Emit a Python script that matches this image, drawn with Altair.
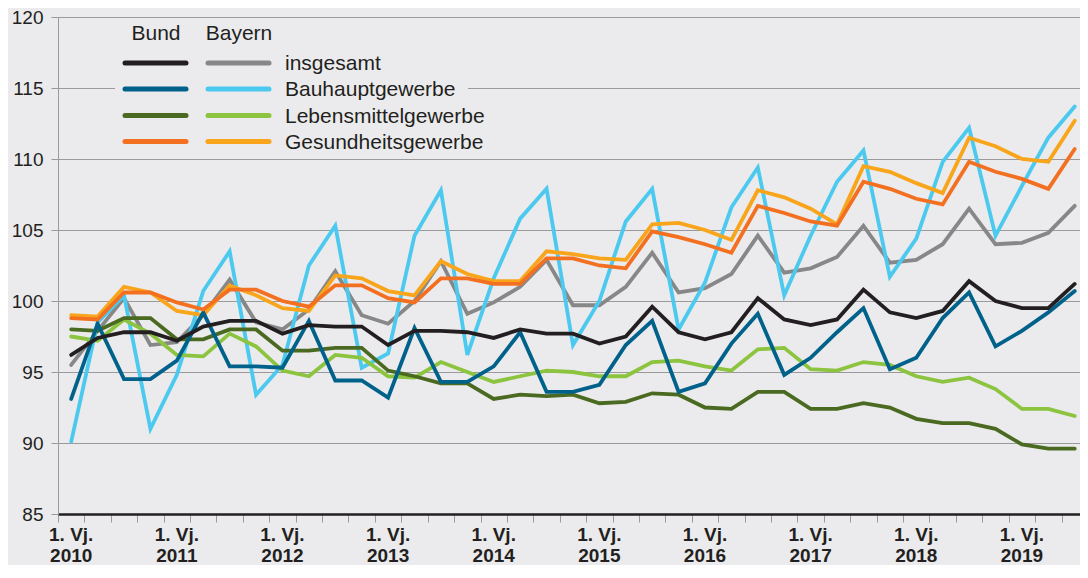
import altair as alt
import pandas as pd

# ---------------- data ----------------
years = ["2010", "2011", "2012", "2013", "2014", "2015", "2016", "2017", "2018", "2019"]
quarter_names = ["1. Vj.", "2. Vj.", "3. Vj.", "4. Vj."]
n_quarters = 39  # 1. Vj. 2010 ... 3. Vj. 2019

bund_insgesamt = [96.2, 97.4, 97.8, 97.8, 97.2, 98.2, 98.6, 98.6, 97.7, 98.3,
                  98.2, 98.2, 96.9, 97.9, 97.9, 97.8, 97.4, 98.0, 97.7, 97.7,
                  97.0, 97.5, 99.6, 97.8, 97.3, 97.8, 100.2, 98.7, 98.3, 98.7,
                  100.8, 99.2, 98.8, 99.3, 101.4, 100.0, 99.5, 99.5, 101.2]
bayern_insgesamt = [95.5, 97.9, 100.2, 96.9, 97.1, 99.0, 101.5, 98.5, 98.0, 99.4,
                    102.1, 99.0, 98.4, 100.0, 102.8, 99.1, 99.9, 101.0, 102.9, 99.7,
                    99.7, 101.0, 103.4, 100.6, 100.9, 101.9, 104.6, 102.0, 102.3, 103.1,
                    105.3, 102.7, 102.9, 104.0, 106.5, 104.0, 104.1, 104.8, 106.7]
bund_bau = [93.1, 98.4, 94.5, 94.5, 95.8, 99.2, 95.4, 95.4, 95.3, 98.6,
            94.4, 94.4, 93.2, 98.1, 94.3, 94.3, 95.4, 97.8, 93.6, 93.6,
            94.1, 96.9, 98.6, 93.6, 94.2, 97.0, 99.1, 94.8, 96.0, 97.8,
            99.5, 95.2, 96.0, 98.8, 100.6, 96.8, 97.9, 99.2, 100.7]
bayern_bau = [90.1, 98.5, 100.4, 91.0, 94.8, 100.7, 103.5, 93.4, 95.5, 102.5,
              105.3, 95.3, 96.3, 104.6, 107.8, 96.2, 101.6, 105.8, 107.9, 96.9,
              100.0, 105.6, 107.9, 98.0, 101.3, 106.6, 109.4, 100.4, 104.6, 108.4,
              110.6, 101.7, 104.4, 109.8, 112.2, 104.6, 108.1, 111.5, 113.7]
bund_leben = [98.0, 97.9, 98.8, 98.8, 97.3, 97.3, 98.0, 98.0, 96.5, 96.5,
              96.7, 96.7, 95.1, 94.7, 94.2, 94.2, 93.1, 93.4, 93.3, 93.4,
              92.8, 92.9, 93.5, 93.4, 92.5, 92.4, 93.6, 93.6, 92.4, 92.4,
              92.8, 92.5, 91.7, 91.4, 91.4, 91.0, 89.9, 89.6, 89.6]
bayern_leben = [97.5, 97.2, 98.7, 97.7, 96.2, 96.1, 97.7, 96.8, 95.1, 94.7,
                96.2, 96.0, 94.7, 94.6, 95.7, 95.0, 94.3, 94.7, 95.1, 95.0,
                94.7, 94.7, 95.7, 95.8, 95.4, 95.1, 96.6, 96.7, 95.2, 95.1,
                95.7, 95.5, 94.7, 94.3, 94.6, 93.8, 92.4, 92.4, 91.9]
bund_gesund = [98.8, 98.7, 100.6, 100.6, 99.9, 99.4, 100.8, 100.8, 100.0, 99.6,
               101.1, 101.1, 100.2, 99.9, 101.6, 101.6, 101.2, 101.2, 103.0, 103.0,
               102.5, 102.3, 104.9, 104.5, 104.0, 103.4, 106.7, 106.2, 105.6, 105.3,
               108.4, 107.9, 107.2, 106.8, 109.8, 109.1, 108.6, 107.9, 110.7]
bayern_gesund = [99.0, 98.9, 101.0, 100.6, 99.3, 99.0, 101.1, 100.4, 99.5, 99.3,
                 101.8, 101.6, 100.7, 100.4, 102.8, 101.9, 101.4, 101.4, 103.5, 103.3,
                 103.0, 102.9, 105.4, 105.5, 105.0, 104.3, 107.8, 107.3, 106.5, 105.4,
                 109.5, 109.1, 108.3, 107.6, 111.5, 110.9, 110.0, 109.8, 112.7]

branch_labels = ["insgesamt", "Bauhauptgewerbe", "Lebensmittelgewerbe", "Gesundheitsgewerbe"]
bund_colors = ["#231f20", "#00628a", "#4b6a21", "#f37021"]
bayern_colors = ["#878787", "#4cc9ee", "#8cc43f", "#f9a51b"]
y_ticks = [85, 90, 95, 100, 105, 110, 115, 120]

# ---------------- styling ----------------
BG = "#ebebed"
FONT = "Liberation Sans"
TXT = "#231f20"
GRID = "#9a9a9a"
PLOT_H = 497

quarter_labels = [f"{quarter_names[i % 4]} {years[i // 4]}" for i in range(n_quarters)]

xscale = alt.Scale(domain=[-0.5, 38.2], nice=False, zero=False)
xaxis = alt.Axis(values=[i - 0.5 for i in range(n_quarters)], labels=False, ticks=True,
                 tickColor=GRID, tickSize=8, tickWidth=1, domainColor=TXT,
                 domainWidth=2.5, grid=False, title=None)
yscale = alt.Scale(domain=[85, 120], nice=False, zero=False)
yaxis = alt.Axis(values=y_ticks, grid=True, gridColor=GRID, gridWidth=1,
                 domainColor=GRID, domainWidth=1, tickColor=GRID, tickSize=7,
                 labelFontSize=19, labelFont=FONT, labelColor=TXT, labelPadding=8,
                 title=None)

xenc = alt.X("idx:Q", scale=xscale, axis=xaxis)
yenc = alt.Y("value:Q", scale=yscale, axis=yaxis)


def line_layer(values, color, name):
    df = pd.DataFrame({"idx": list(range(len(values))), "value": values,
                       "quarter": quarter_labels[:len(values)], "series": name})
    return alt.Chart(df).mark_line(color=color, strokeWidth=3.8, strokeJoin="miter",
                                   strokeCap="round").encode(x=xenc, y=yenc)


layers = []
bayern_series = [bayern_insgesamt, bayern_bau, bayern_leben, bayern_gesund]
bund_series = [bund_leben, bund_bau, bund_gesund, bund_insgesamt]
bund_order_colors = [bund_colors[2], bund_colors[1], bund_colors[3], bund_colors[0]]
bund_order_names = [branch_labels[2], branch_labels[1], branch_labels[3], branch_labels[0]]
for vals, col, nm in zip(bayern_series, bayern_colors, branch_labels):
    layers.append(line_layer(vals, col, "Bayern " + nm))
for vals, col, nm in zip(bund_series, bund_order_colors, bund_order_names):
    layers.append(line_layer(vals, col, "Bund " + nm))

# x-axis labels (two bold lines) at each 1. Vj.
lab_df = pd.DataFrame({"idx": [4 * k for k in range(len(years))],
                       "value": [85] * len(years),
                       "quarter": [quarter_names[0]] * len(years),
                       "year": years})
layers.append(
    alt.Chart(lab_df).mark_text(font=FONT, fontSize=19, fontWeight="bold",
                                baseline="alphabetic", align="center", color=TXT)
    .encode(x=xenc, y=alt.value(PLOT_H + 27), text="quarter:N")
)
layers.append(
    alt.Chart(lab_df).mark_text(font=FONT, fontSize=19, fontWeight="bold",
                                baseline="alphabetic", align="center", color=TXT)
    .encode(x=xenc, y=alt.value(PLOT_H + 48), text="year:N")
)

# ---------------- custom legend ----------------
one = alt.Data(values=[{}])
layers.append(alt.Chart(one).mark_rect(fill=BG).encode(
    x=alt.value(57), x2=alt.value(410), y=alt.value(8), y2=alt.value(138)))
layers.append(alt.Chart(one).mark_text(font=FONT, fontSize=21, color=TXT, align="center",
                                       baseline="middle").encode(
    x=alt.value(98), y=alt.value(17), text=alt.value("Bund")))
layers.append(alt.Chart(one).mark_text(font=FONT, fontSize=21, color=TXT, align="center",
                                       baseline="middle").encode(
    x=alt.value(181), y=alt.value(17), text=alt.value("Bayern")))
row_y = [46, 72, 98.5, 124.5]
for ry, lab, c1, c2 in zip(row_y, branch_labels, bund_colors, bayern_colors):
    layers.append(alt.Chart(one).mark_rule(color=c1, strokeWidth=5, strokeCap="round").encode(
        x=alt.value(67), x2=alt.value(128), y=alt.value(ry)))
    layers.append(alt.Chart(one).mark_rule(color=c2, strokeWidth=5, strokeCap="round").encode(
        x=alt.value(150), x2=alt.value(211), y=alt.value(ry)))
    layers.append(alt.Chart(one).mark_text(font=FONT, fontSize=21, color=TXT, align="left",
                                           baseline="middle").encode(
        x=alt.value(227), y=alt.value(ry + 1), text=alt.value(lab)))

chart = alt.layer(*layers).properties(
    width=1022, height=PLOT_H, background=BG,
    padding={"left": 50, "top": 9, "right": 0, "bottom": 51},
    autosize=alt.AutoSizeParams(type="none"),
).configure_view(strokeWidth=0)

chart.save("out.html", embed_options={"renderer": "svg", "actions": False})
